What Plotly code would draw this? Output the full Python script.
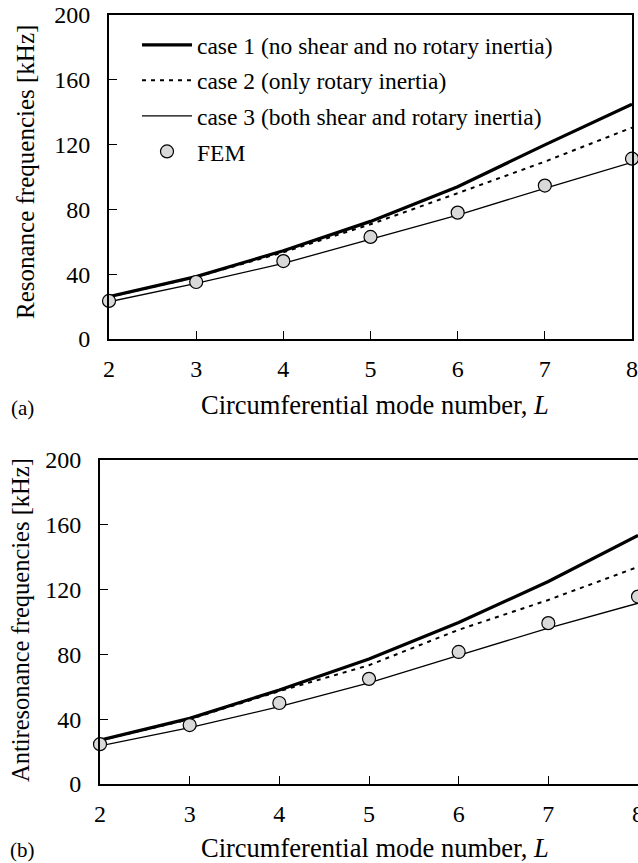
import plotly.graph_objects as go

# ---- data ----
L = [2, 3, 4, 5, 6, 7, 8]
x_ticks = [2, 3, 4, 5, 6, 7, 8]
y_ticks = [0, 40, 80, 120, 160, 200]

res_case1 = [26.1, 38.5, 54.5, 72.6, 94.0, 119.8, 144.9]
res_case2 = [26.0, 38.3, 53.5, 70.8, 90.0, 109.5, 130.5]
res_case3 = [23.0, 34.4, 46.7, 61.5, 76.5, 93.0, 109.0]
res_fem = [23.5, 35.2, 48.1, 63.0, 78.0, 94.7, 111.3]

anti_case1 = [27.0, 40.5, 58.0, 77.2, 99.7, 125.0, 153.5]
anti_case2 = [27.0, 40.0, 57.3, 73.3, 95.2, 113.6, 134.0]
anti_case3 = [23.5, 34.8, 47.7, 62.4, 79.4, 96.2, 111.6]
anti_fem = [24.6, 36.4, 50.0, 64.9, 81.5, 99.3, 115.7]

names = ["case 1 (no shear and no rotary inertia)",
         "case 2 (only rotary inertia)",
         "case 3 (both shear and rotary inertia)",
         "FEM"]

W, H = 638, 863
FONT = "Liberation Serif, Times New Roman, serif"


def fx(p):
    return p / W


def fy(p):
    return 1 - p / H


fig = go.Figure()

line_styles = [dict(color="black", width=3.2),
               dict(color="black", width=2, dash="4px,5px"),
               dict(color="black", width=1.3)]
marker_style = dict(symbol="circle", size=13, color="#d9d9d9",
                    line=dict(color="black", width=1.2))

for panel, (xa, ya, series, fem, show) in enumerate([
        ("x", "y", [res_case1, res_case2, res_case3], res_fem, True),
        ("x2", "y2", [anti_case1, anti_case2, anti_case3], anti_fem, False)]):
    for i, s in enumerate(series):
        fig.add_trace(go.Scatter(x=L, y=s, mode="lines", name=names[i],
                                 line=line_styles[i], xaxis=xa, yaxis=ya,
                                 showlegend=show, legendgroup=f"g{i}",
                                 cliponaxis=False))
    fig.add_trace(go.Scatter(x=L, y=fem, mode="markers", name=names[3],
                             marker=marker_style, xaxis=xa, yaxis=ya,
                             showlegend=show, legendgroup="g3",
                             cliponaxis=False))

axis_common = dict(showgrid=False, zeroline=False, showline=True,
                   linecolor="black", linewidth=2, ticks="inside",
                   ticklen=8, tickwidth=1, tickcolor="black",
                   automargin=False, ticklabeloverflow="allow",
                   tickfont=dict(family=FONT, size=24, color="black"))

fig.update_layout(
    width=W, height=H,
    margin=dict(l=0, r=0, t=0, b=0, autoexpand=False),
    paper_bgcolor="white", plot_bgcolor="white",
    font=dict(family=FONT, size=24, color="black"),
    showlegend=True,
    legend=dict(x=fx(137), y=fy(23), xanchor="left", yanchor="top",
                bgcolor="rgba(0,0,0,0)", font=dict(family=FONT, size=23.5),
                tracegroupgap=2, itemwidth=50),
    xaxis=dict(domain=[fx(109), fx(632)], range=[2, 8], tickvals=x_ticks,
               anchor="y", mirror=True, ticklabelstandoff=7, **axis_common),
    yaxis=dict(domain=[fy(339), fy(15)], range=[0, 200], tickvals=y_ticks,
               anchor="x", mirror=True, ticklabelstandoff=12, **axis_common),
    xaxis2=dict(domain=[fx(100), 1.0], range=[2, 8], tickvals=x_ticks,
                anchor="y2", mirror=True, ticklabelstandoff=7, **axis_common),
    yaxis2=dict(domain=[fy(784), fy(460)], range=[0, 200], tickvals=y_ticks,
                anchor="x2", mirror=False, ticklabelstandoff=12, **axis_common),
)

ann = [
    dict(text="Resonance frequencies [kHz]", x=fx(25), y=fy(172),
         textangle=-90, size=25),
    dict(text="Circumferential mode number, <i>L</i>", x=fx(375), y=fy(405),
         size=26.5),
    dict(text="(a)", x=fx(22), y=fy(408), size=21),
    dict(text="Antiresonance frequencies [kHz]", x=fx(20), y=fy(620),
         textangle=-90, size=24.5),
    dict(text="Circumferential mode number, <i>L</i>", x=fx(375), y=fy(848),
         size=26.5),
    dict(text="(b)", x=fx(22), y=fy(850), size=21),
]
for a in ann:
    fig.add_annotation(text=a["text"], x=a["x"], y=a["y"], xref="paper",
                       yref="paper", showarrow=False,
                       textangle=a.get("textangle", 0),
                       xanchor="center", yanchor="middle",
                       font=dict(family=FONT, size=a.get("size", 24),
                                 color="black"))

# remove the browser's default page margin so the figure fills the window
fig.write_html(
    "out.html",
    config={"displayModeBar": False},
    post_script="document.body.style.margin='0';"
                "document.body.style.padding='0';"
                "document.body.style.overflow='hidden';")
